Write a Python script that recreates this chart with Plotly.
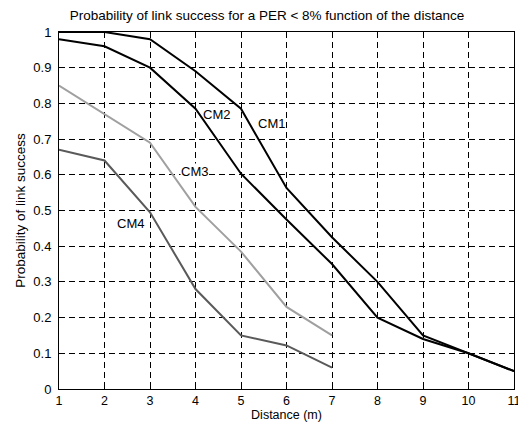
import plotly.graph_objects as go

distance_cm12 = [1, 2, 3, 4, 5, 6, 7, 8, 9, 10, 11]
cm1 = [1.0, 1.0, 0.98, 0.89, 0.785, 0.563, 0.425, 0.30, 0.15, 0.10, 0.05]
cm2 = [0.98, 0.96, 0.90, 0.785, 0.603, 0.475, 0.35, 0.20, 0.14, 0.10, 0.05]
distance_cm34 = [1, 2, 3, 4, 5, 6, 7]
cm3 = [0.85, 0.77, 0.69, 0.51, 0.385, 0.23, 0.15]
cm4 = [0.67, 0.64, 0.495, 0.28, 0.15, 0.122, 0.06]

label_names = ["CM1", "CM2", "CM3", "CM4"]
label_x = [5.66, 4.47, 3.97, 2.57]
label_y = [0.745, 0.77, 0.61, 0.465]

x_ticks = list(range(1, 12))
y_ticks = [0, 0.1, 0.2, 0.3, 0.4, 0.5, 0.6, 0.7, 0.8, 0.9, 1]
y_tick_text = ["0", "0.1", "0.2", "0.3", "0.4", "0.5", "0.6", "0.7", "0.8", "0.9", "1"]

font = "Liberation Sans, Arial, sans-serif"
fs = 13

fig = go.Figure()
fig.add_trace(go.Scatter(x=distance_cm12, y=cm1, mode="lines", name="CM1",
                         line=dict(color="#000000", width=2)))
fig.add_trace(go.Scatter(x=distance_cm12, y=cm2, mode="lines", name="CM2",
                         line=dict(color="#000000", width=2)))
fig.add_trace(go.Scatter(x=distance_cm34, y=cm3, mode="lines", name="CM3",
                         line=dict(color="#a0a0a0", width=2)))
fig.add_trace(go.Scatter(x=distance_cm34, y=cm4, mode="lines", name="CM4",
                         line=dict(color="#5a5a5a", width=2)))

for name, lx, ly in zip(label_names, label_x, label_y):
    fig.add_annotation(x=lx, y=ly, text=name, showarrow=False,
                       font=dict(family=font, size=fs, color="black"),
                       bgcolor="white" if name == "CM3" else "rgba(0,0,0,0)",
                       borderpad=0)

axis_common = dict(
    showline=True, linecolor="black", linewidth=1, mirror="ticks",
    ticks="inside", ticklen=5, tickcolor="black",
    showgrid=True, gridcolor="black", gridwidth=1, griddash="6px,4px",
    zeroline=False,
    automargin=False,
)

fig.update_xaxes(range=[1, 11], tickvals=x_ticks, ticklabelstandoff=0,
                 tickfont=dict(family=font, size=12.5, color="black"),
                 title=dict(text="Distance (m)", font=dict(family=font, size=12.5, color="black"), standoff=1),
                 **axis_common)
fig.update_yaxes(range=[0, 1], tickvals=y_ticks, ticktext=y_tick_text, ticklabelstandoff=4,
                 tickfont=dict(family=font, size=fs, color="black"),
                 title=dict(text="Probability of link success", font=dict(family=font, size=13.5, color="black"), standoff=4),
                 **axis_common)

fig.update_layout(
    width=518, height=415,
    margin=dict(l=51, r=12, t=24, b=34),
    paper_bgcolor="white", plot_bgcolor="white",
    showlegend=False,
    title=dict(text="Probability of link success for a PER < 8% function of the distance",
               x=0.5, xanchor="center", y=0.983, yanchor="middle",
               font=dict(family=font, size=13.5, color="black")),
)

fig.write_html("out.html")
